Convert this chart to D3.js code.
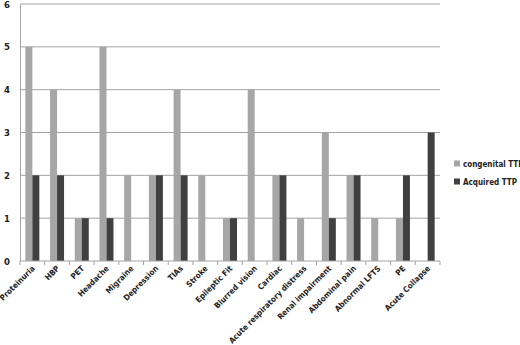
<!DOCTYPE html>
<html>
<head>
<meta charset="utf-8">
<script src="https://cdn.jsdelivr.net/npm/d3@7"></script>
<style>
  body { margin: 0; background: #fff; }
  text { font-family: "Liberation Sans Narrow", "DejaVu Sans Condensed", sans-serif; font-weight: bold; fill: #222; }
</style>
</head>
<body>
<div id="chart"></div>
<script>
// categories and values
const categories = ['Proteinuria', 'HBP', 'PET', 'Headache', 'Migraine', 'Depression', 'TIAs',
  'Stroke', 'Epileptic Fit', 'Blurred vision', 'Cardiac', 'Acute respiratory distress',
  'Renal impairment', 'Abdominal pain', 'Abnormal LFTS', 'PE', 'Acute Collapse'];
const congenital = [5, 4, 1, 5, 2, 2, 4, 2, 1, 4, 2, 1, 3, 2, 1, 1, 0];
const acquired = [2, 2, 1, 1, 0, 2, 2, 0, 1, 0, 2, 0, 1, 2, 0, 2, 3];
const seriesNames = ['congenital TTP', 'Acquired TTP'];
const seriesColors = ['#a6a6a6', '#404040'];
const yTicks = [0, 1, 2, 3, 4, 5, 6];

const width = 520, height = 345;
const margin = { top: 4, right: 80, bottom: 84, left: 20 };
const w = width - margin.left - margin.right;
const h = height - margin.top - margin.bottom;

const svg = d3.select('#chart').append('svg')
  .attr('width', width)
  .attr('height', height);

const g = svg.append('g')
  .attr('transform', `translate(${margin.left},${margin.top})`);

const x = d3.scaleBand().domain(categories).range([0, w]);
const y = d3.scaleLinear().domain([0, 6]).range([h, 0]);
const barW = 7;

// gridlines
g.selectAll('.grid')
  .data(yTicks.filter((d) => d > 0))
  .enter().append('line')
  .attr('x1', 0).attr('x2', w)
  .attr('y1', (d) => y(d)).attr('y2', (d) => y(d))
  .attr('stroke', '#a3a3a3').attr('stroke-width', 1);

// bars
const rows = categories.map((c, i) => ({ c, vals: [congenital[i], acquired[i]] }));
const grp = g.selectAll('.cat').data(rows).enter().append('g')
  .attr('transform', (d) => `translate(${x(d.c) + x.bandwidth() / 2 - barW},0)`);
grp.selectAll('rect')
  .data((d) => d.vals)
  .enter().append('rect')
  .attr('x', (d, j) => j * barW)
  .attr('y', (d) => y(d))
  .attr('width', barW)
  .attr('height', (d) => h - y(d))
  .attr('fill', (d, j) => seriesColors[j]);

// y axis
const yAxis = g.append('g')
  .call(d3.axisLeft(y).tickValues(yTicks).tickFormat(d3.format('d')).tickSize(0).tickPadding(10));
yAxis.select('.domain').attr('stroke', '#a3a3a3');
yAxis.selectAll('text').style('font-size', '9.5px').style('font-family', null).attr('fill', '#222');

// x axis with ticks on band boundaries
g.append('line')
  .attr('x1', 0).attr('x2', w)
  .attr('y1', h).attr('y2', h)
  .attr('stroke', '#a3a3a3');
g.selectAll('.xtick')
  .data(d3.range(categories.length + 1))
  .enter().append('line')
  .attr('x1', (i) => i * x.step()).attr('x2', (i) => i * x.step())
  .attr('y1', h).attr('y2', h + 4)
  .attr('stroke', '#a3a3a3');

g.selectAll('.xlabel')
  .data(categories)
  .enter().append('text')
  .attr('transform', (d) => `translate(${x(d) + x.bandwidth() / 2 + 1},${h + 6}) rotate(-45)`)
  .attr('text-anchor', 'end')
  .attr('dy', '0.35em')
  .style('font-size', '8px')
  .text((d) => d);

// legend
const legend = svg.append('g')
  .attr('transform', `translate(${margin.left + w + 14},164)`);
seriesNames.forEach((name, i) => {
  legend.append('rect')
    .attr('x', 0).attr('y', i * 18 - 3.5)
    .attr('width', 6).attr('height', 6)
    .attr('fill', seriesColors[i]);
  legend.append('text')
    .attr('x', 9).attr('y', i * 18)
    .attr('dy', '0.35em')
    .style('font-size', '8px')
    .text(name);
});
</script>
</body>
</html>
